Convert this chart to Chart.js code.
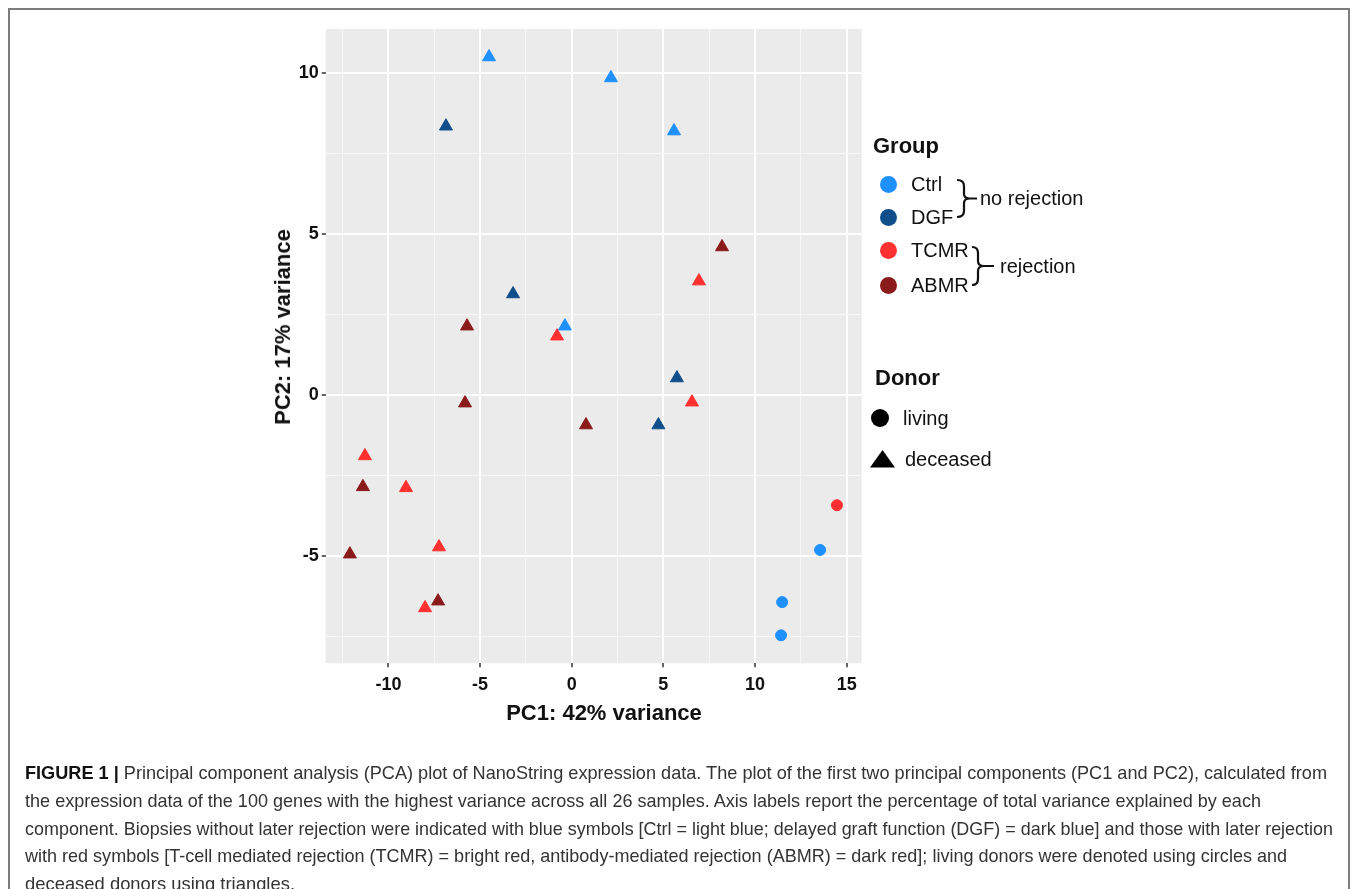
<!DOCTYPE html>
<html>
<head>
<meta charset="utf-8">
<script src="https://cdn.jsdelivr.net/npm/chart.js@4.4.1/dist/chart.umd.min.js"></script>
<style>
html, body { margin: 0; padding: 0; background: #fff; }
body { width: 1357px; height: 889px; position: relative; overflow: hidden;
       font-family: "Liberation Sans", Arial, Helvetica, sans-serif; color: #111; }
#frame { position: absolute; left: 8px; top: 8px; width: 1342px; height: 920px;
         border: 2px solid #7d7d7d; box-sizing: border-box; }
#wrap { position: absolute; left: 0; top: 0; width: 1357px; height: 889px; }
.t { position: absolute; white-space: nowrap; transform: translateY(-50%); }
.ttl { font-weight: bold; font-size: 22px; }
.itm { font-size: 20px; }
.dot { position: absolute; border-radius: 50%; }
.axt { position: absolute; white-space: nowrap; font-weight: bold; font-size: 22px; }
#caption { position: absolute; left: 25px; top: 759px; font-size: 19px; line-height: 27.8px; color: #333; }
#caption div { white-space: nowrap; }
#caption span { display: inline-block; transform-origin: 0 50%; }
#caption b { color: #111; }
</style>
</head>
<body>
<div id="frame"></div>
<div id="wrap"><canvas id="pca"></canvas></div>

<div class="axt" style="left:604px;top:713px;transform:translate(-50%,-50%)">PC1: 42% variance</div>
<div class="axt" style="left:283px;top:327px;transform:translate(-50%,-50%) rotate(-90deg)">PC2: 17% variance</div>

<!-- legend -->
<div class="t ttl" style="left:873px;top:146px">Group</div>
<div class="dot" style="left:880px;top:176px;width:17px;height:17px;background:#1E90FF"></div>
<div class="dot" style="left:880px;top:209px;width:17px;height:17px;background:#104E8B"></div>
<div class="dot" style="left:880px;top:242px;width:17px;height:17px;background:#FF3030"></div>
<div class="dot" style="left:880px;top:277px;width:17px;height:17px;background:#8B1A1A"></div>
<div class="t itm" style="left:911px;top:184px">Ctrl</div>
<div class="t itm" style="left:911px;top:217px">DGF</div>
<div class="t itm" style="left:911px;top:250px">TCMR</div>
<div class="t itm" style="left:911px;top:285px">ABMR</div>
<svg style="position:absolute;left:0;top:0" width="1357" height="889">
  <path d="M957,180 Q964,180 964,186 L964,194 Q964,198.5 970,198.5 Q964,198.5 964,203 L964,211 Q964,217 957,217 M970,198.5 L977,198.5"
        fill="none" stroke="#111" stroke-width="2.2"/>
  <path d="M972,247 Q978,247 978,253 L978,261 Q978,266 984,266 Q978,266 978,271 L978,279 Q978,285 972,285 M984,266 L994,266"
        fill="none" stroke="#111" stroke-width="2.2"/>
  <polygon points="870,467.5 895,467.5 882.5,450" fill="#000"/>
</svg>
<div class="t itm" style="left:980px;top:198px">no rejection</div>
<div class="t itm" style="left:1000px;top:266px">rejection</div>

<div class="t ttl" style="left:875px;top:378px">Donor</div>
<div class="dot" style="left:871px;top:409px;width:18px;height:18px;background:#000"></div>
<div class="t itm" style="left:903px;top:418px">living</div>
<div class="t itm" style="left:905px;top:459px">deceased</div>

<div id="caption">
<div><span data-w="1302"><b>FIGURE 1 |</b> Principal component analysis (PCA) plot of NanoString expression data. The plot of the first two principal components (PC1 and PC2), calculated from</span></div>
<div><span data-w="1236">the expression data of the 100 genes with the highest variance across all 26 samples. Axis labels report the percentage of total variance explained by each</span></div>
<div><span data-w="1308">component. Biopsies without later rejection were indicated with blue symbols [Ctrl = light blue; delayed graft function (DGF) = dark blue] and those with later rejection</span></div>
<div><span data-w="1262">with red symbols [T-cell mediated rejection (TCMR) = bright red, antibody-mediated rejection (ABMR) = dark red]; living donors were denoted using circles and</span></div>
<div><span data-w="270">deceased donors using triangles.</span></div>
</div>

<script>
// PC scores, one pair of arrays per group / donor type
const ctrlDeceasedPC1 = [-4.51, 2.14, 5.58, -0.37];
const ctrlDeceasedPC2 = [10.49, 9.84, 8.19, 2.13];
const ctrlLivingPC1 = [13.55, 11.48, 11.42];
const ctrlLivingPC2 = [-4.82, -6.44, -7.47];
const dgfDeceasedPC1 = [-6.86, -3.20, 5.74, 4.73];
const dgfDeceasedPC2 = [8.34, 3.13, 0.52, -0.94];
const tcmrDeceasedPC1 = [6.94, -0.80, 6.56, -11.28, -9.04, -7.24, -8.00];
const tcmrDeceasedPC2 = [3.53, 1.82, -0.23, -1.90, -2.89, -4.73, -6.62];
const tcmrLivingPC1 = [14.47];
const tcmrLivingPC2 = [-3.43];
const abmrDeceasedPC1 = [8.20, -5.71, -5.82, 0.78, -11.39, -12.10, -7.29];
const abmrDeceasedPC2 = [4.59, 2.13, -0.26, -0.94, -2.86, -4.95, -6.41];

// axis ticks: labelled major breaks and unlabelled minor breaks
const xMajor = [-10, -5, 0, 5, 10, 15];
const xMinor = [-12.5, -7.5, -2.5, 2.5, 7.5, 12.5];
const yMajor = [-5, 0, 5, 10];
const yMinor = [-7.5, -2.5, 2.5, 7.5];

function pts(xs, ys) {
  return xs.map((x, i) => ({ x: x, y: ys[i] }));
}

function ds(label, xs, ys, color, shape) {
  return {
    label: label,
    data: pts(xs, ys),
    backgroundColor: color,
    borderColor: color,
    borderWidth: 1,
    pointStyle: shape,
    pointRadius: shape === 'triangle' ? 7.5 : 5.5,
    pointHoverRadius: shape === 'triangle' ? 7.5 : 5.5
  };
}

const panelBg = {
  id: 'panelBg',
  beforeDraw(chart) {
    const a = chart.chartArea, c = chart.ctx;
    c.save();
    c.fillStyle = '#EBEBEB';
    c.fillRect(a.left, a.top, a.right - a.left, a.bottom - a.top);
    c.restore();
  }
};

function axis(min, max, major, minor, pos) {
  return {
    type: 'linear',
    position: pos,
    min: min,
    max: max,
    afterBuildTicks(scale) {
      scale.ticks = major.concat(minor).sort((a, b) => a - b).map(v => ({ value: v }));
    },
    afterFit(scale) {
      if (pos === 'left') scale.width = 65.7;
      else scale.height = 40;
    },
    border: { display: false },
    grid: {
      color: c => major.includes(c.tick.value) ? '#FFFFFF' : '#F7F7F7',
      lineWidth: c => major.includes(c.tick.value) ? 2 : 1,
      tickColor: c => major.includes(c.tick.value) ? '#333333' : 'rgba(0,0,0,0)',
      tickWidth: 1.5,
      tickLength: 4
    },
    ticks: {
      autoSkip: false,
      maxRotation: 0,
      padding: pos === 'left' ? 3 : 7,
      color: '#111',
      font: { family: '"Liberation Sans", Arial, sans-serif', size: 18, weight: 'bold' },
      callback: v => major.includes(v) ? String(v) : ''
    }
  };
}

new Chart(document.getElementById('pca'), {
  type: 'scatter',
  data: {
    datasets: [
      ds('Ctrl living', ctrlLivingPC1, ctrlLivingPC2, '#1E90FF', 'circle'),
      ds('Ctrl deceased', ctrlDeceasedPC1, ctrlDeceasedPC2, '#1E90FF', 'triangle'),
      ds('DGF deceased', dgfDeceasedPC1, dgfDeceasedPC2, '#104E8B', 'triangle'),
      ds('TCMR living', tcmrLivingPC1, tcmrLivingPC2, '#FF3030', 'circle'),
      ds('TCMR deceased', tcmrDeceasedPC1, tcmrDeceasedPC2, '#FF3030', 'triangle'),
      ds('ABMR deceased', abmrDeceasedPC1, abmrDeceasedPC2, '#8B1A1A', 'triangle')
    ]
  },
  options: {
    responsive: true,
    maintainAspectRatio: false,
    animation: false,
    layout: { padding: { left: 260, top: 29, right: 495.3, bottom: 185.7 } },
    plugins: { legend: { display: false }, tooltip: { enabled: false } },
    scales: {
      x: axis(-13.42, 15.82, xMajor, xMinor, 'bottom'),
      y: axis(-8.34, 11.36, yMajor, yMinor, 'left')
    }
  },
  plugins: [panelBg]
});

// squeeze each caption line to the width it has in the original's narrow typeface
document.querySelectorAll('#caption span').forEach(s => {
  const w = s.getBoundingClientRect().width;
  s.style.transform = 'scaleX(' + (Number(s.dataset.w) / w) + ')';
});
</script>
</body>
</html>
